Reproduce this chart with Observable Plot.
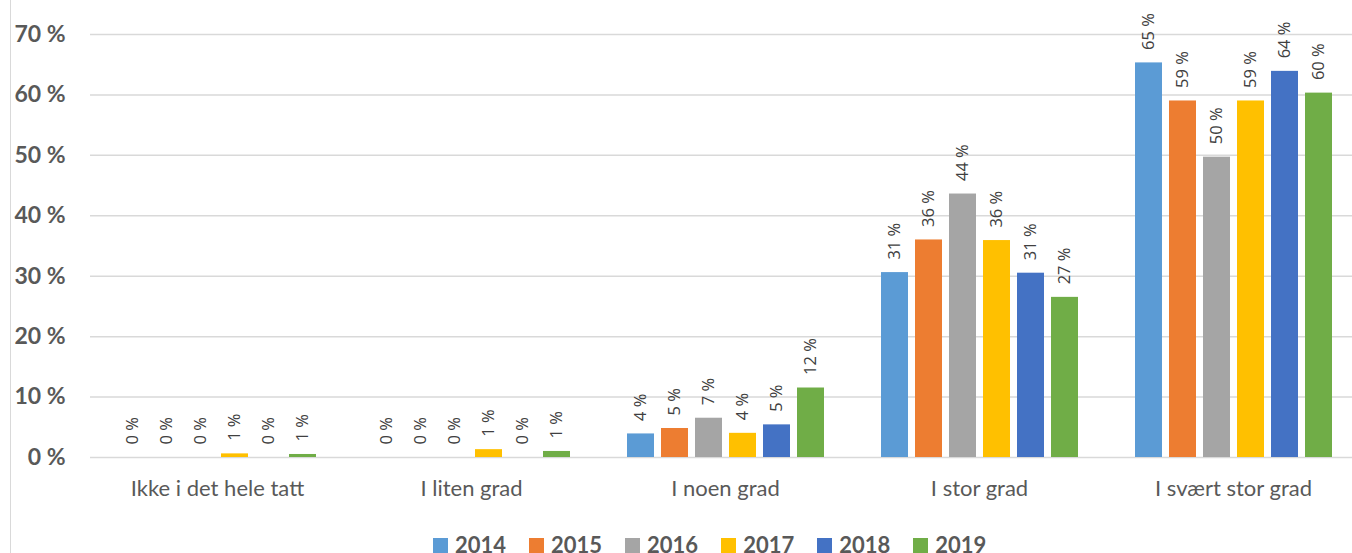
<!DOCTYPE html>
<html>
<head>
<meta charset="utf-8">
<script src="https://cdn.jsdelivr.net/npm/d3@7"></script>
<script src="https://cdn.jsdelivr.net/npm/@observablehq/plot@0.6"></script>
<style>
  html, body { margin: 0; padding: 0; background: #fff; overflow: hidden; width: 1352px; height: 553px; }
  #wrap { position: relative; width: 1352px; height: 553px; overflow: hidden; }
  #border { position: absolute; left: 10px; top: 0; width: 1px; height: 553px; background: #d9d9d9; }
  #chart { position: absolute; left: 0; top: 0; }
  #chart svg { max-width: none !important; }
  #legend { position: absolute; top: 534px; left: 433px; display: flex; align-items: center;
            font-family: Lato, sans-serif; font-weight: bold; font-size: 22px; color: #595959; line-height: 22px; }
  .item { display: flex; align-items: center; margin-right: 23px; }
  .sw { width: 15px; height: 15px; margin-right: 7px; }
</style>
</head>
<body>
<div id="wrap">
  <div id="border"></div>
  <div id="chart"></div>
  <div id="legend"></div>
</div>
<script>
const categories = ["Ikke i det hele tatt", "I liten grad", "I noen grad", "I stor grad", "I svært stor grad"];
const years = ["2014", "2015", "2016", "2017", "2018", "2019"];
const colors = ["#5b9bd5", "#ed7d31", "#a5a5a5", "#ffc000", "#4472c4", "#70ad47"];
const v2014 = [0, 0, 3.9, 30.6, 65.3];
const v2015 = [0, 0, 4.8, 36.0, 59.0];
const v2016 = [0, 0, 6.5, 43.6, 49.7];
const v2017 = [0.6, 1.3, 4.0, 35.9, 59.0];
const v2018 = [0, 0, 5.4, 30.5, 63.9];
const v2019 = [0.5, 1.0, 11.5, 26.5, 60.3];
const yTicks = [0, 10, 20, 30, 40, 50, 60, 70];

const series = [v2014, v2015, v2016, v2017, v2018, v2019];
const data = [];
categories.forEach((c, i) => {
  years.forEach((y, j) => {
    data.push({category: c, year: y, value: series[j][i]});
  });
});

const chart = Plot.plot({
  width: 1364,
  height: 515,
  marginLeft: 88,
  marginRight: 2,
  marginTop: 34,
  marginBottom: 58,
  style: {fontFamily: "Lato, sans-serif", background: "transparent", maxWidth: "none"},
  fx: {domain: categories, padding: 0, label: null},
  x: {domain: years, paddingInner: 0.21, paddingOuter: 0.79, axis: null},
  y: {domain: [0, 70], label: null},
  color: {domain: years, range: colors},
  marks: [
    Plot.ruleY(yTicks, {stroke: "#d9d9d9", strokeWidth: 1.5}),
    Plot.barY(data, {fx: "category", x: "year", y: "value", fill: "year"}),
    Plot.text(data, {
      fx: "category", x: "year", y: "value",
      text: d => Math.round(d.value) + " %",
      rotate: -90, textAnchor: "start", lineAnchor: "middle",
      dy: -13, fontSize: 16.5, fill: "#404040", fontFamily: "Open Sans"
    }),
    Plot.axisY(yTicks, {
      tickSize: 0, tickPadding: 25, tickFormat: d => d + " %",
      fontSize: 23, fontWeight: "bold", fill: "#595959", label: null
    }),
    Plot.axisFx({anchor: "bottom", tickSize: 0, tickPadding: 23, fontSize: 22, fill: "#595959", label: null})
  ]
});
document.getElementById("chart").appendChild(chart);

const legend = document.getElementById("legend");
years.forEach((y, i) => {
  const it = document.createElement("div");
  it.className = "item";
  const sw = document.createElement("div");
  sw.className = "sw";
  sw.style.background = colors[i];
  const t = document.createElement("span");
  t.textContent = y;
  it.appendChild(sw);
  it.appendChild(t);
  legend.appendChild(it);
});
</script>
</body>
</html>
